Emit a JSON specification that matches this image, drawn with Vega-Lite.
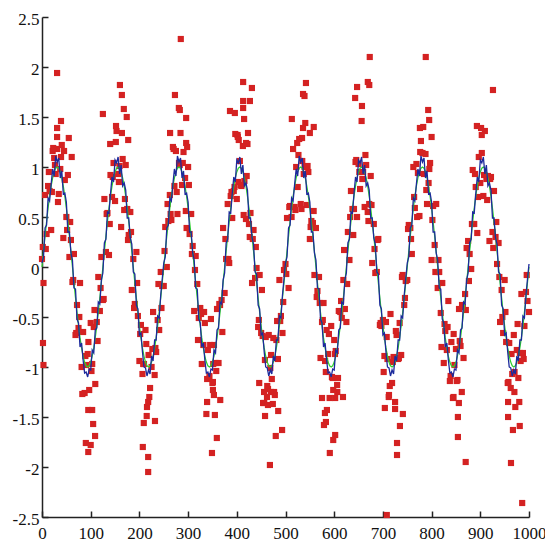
{
"$schema":"https://vega.github.io/schema/vega-lite/v6.json",
"width":487,"height":500,
"autosize":"none",
"padding":{"left":42,"top":17,"right":16,"bottom":25},
"background":"white",
"config":{"view":{"stroke":null},
 "axis":{"domainColor":"#222","domainWidth":1.5,"tickColor":"#222","tickWidth":1.5,"tickSize":-6,"labelFont":"Liberation Sans Narrow","labelFontSize":17,"labelColor":"#111","grid":false,"labelFlush":false,"labelOverlap":false},
 "axisX":{"labelPadding":14},
 "axisY":{"labelPadding":9,"labelOffset":2}},
"datasets":{
"lines":[
{"x":0,"g":0,"b":0.04},{"x":3.1,"g":0.156,"b":0.1},{"x":6.3,"g":0.309,"b":0.39},{"x":9.4,"g":0.454,"b":0.42},{"x":12.5,"g":0.588,"b":0.69},{"x":15.6,"g":0.707,"b":0.66},{"x":18.8,"g":0.809,"b":0.83},{"x":21.9,"g":0.891,"b":0.98},{"x":25,"g":0.951,"b":0.91},{"x":28.1,"g":0.988,"b":1.11},{"x":31.3,"g":1,"b":1.05},{"x":34.4,"g":0.988,"b":1.09},{"x":37.5,"g":0.951,"b":0.89},{"x":40.6,"g":0.891,"b":0.96},{"x":43.8,"g":0.809,"b":0.73},{"x":46.9,"g":0.707,"b":0.74},{"x":50,"g":0.588,"b":0.65},{"x":53.1,"g":0.454,"b":0.35},{"x":56.3,"g":0.309,"b":0.35},{"x":59.4,"g":0.156,"b":0.14},{"x":62.5,"g":0,"b":0.07},{"x":65.6,"g":-0.156,"b":-0.21},{"x":68.8,"g":-0.309,"b":-0.22},{"x":71.9,"g":-0.454,"b":-0.52},{"x":75,"g":-0.588,"b":-0.56},{"x":78.1,"g":-0.707,"b":-0.8},{"x":81.3,"g":-0.809,"b":-0.76},{"x":84.4,"g":-0.891,"b":-0.93},{"x":87.5,"g":-0.951,"b":-1.06},{"x":90.6,"g":-0.988,"b":-1.05},{"x":93.8,"g":-1,"b":-1.1},{"x":96.9,"g":-0.988,"b":-1.02},{"x":100,"g":-0.951,"b":-1.03},{"x":103.1,"g":-0.891,"b":-0.83},{"x":106.3,"g":-0.809,"b":-0.86},{"x":109.4,"g":-0.707,"b":-0.63},{"x":112.5,"g":-0.588,"b":-0.61},{"x":115.6,"g":-0.454,"b":-0.35},{"x":118.8,"g":-0.309,"b":-0.37},{"x":121.9,"g":-0.156,"b":-0.13},
{"x":125,"g":0,"b":-0.06},{"x":128.1,"g":0.156,"b":0.24},{"x":131.3,"g":0.309,"b":0.28},{"x":134.4,"g":0.454,"b":0.55},{"x":137.5,"g":0.588,"b":0.54},{"x":140.6,"g":0.707,"b":0.73},{"x":143.8,"g":0.809,"b":0.9},{"x":146.9,"g":0.891,"b":0.85},{"x":150,"g":0.951,"b":1.07},{"x":153.1,"g":0.988,"b":1.04},{"x":156.3,"g":1,"b":1.1},{"x":159.4,"g":0.988,"b":0.93},{"x":162.5,"g":0.951,"b":1.02},{"x":165.6,"g":0.891,"b":0.81},{"x":168.8,"g":0.809,"b":0.84},{"x":171.9,"g":0.707,"b":0.77},{"x":175,"g":0.588,"b":0.49},{"x":178.1,"g":0.454,"b":0.49},{"x":181.3,"g":0.309,"b":0.29},{"x":184.4,"g":0.156,"b":0.23},{"x":187.5,"g":0,"b":-0.05},{"x":190.6,"g":-0.156,"b":-0.07},{"x":193.8,"g":-0.309,"b":-0.38},{"x":196.9,"g":-0.454,"b":-0.42},{"x":200,"g":-0.588,"b":-0.68},{"x":203.1,"g":-0.707,"b":-0.66},{"x":206.3,"g":-0.809,"b":-0.85},{"x":209.4,"g":-0.891,"b":-1.0},{"x":212.5,"g":-0.951,"b":-1.01},{"x":215.6,"g":-0.988,"b":-1.09},{"x":218.8,"g":-1,"b":-1.03},{"x":221.9,"g":-0.988,"b":-1.07},{"x":225,"g":-0.951,"b":-0.89},{"x":228.1,"g":-0.891,"b":-0.94},{"x":231.3,"g":-0.809,"b":-0.73},{"x":234.4,"g":-0.707,"b":-0.73},{"x":237.5,"g":-0.588,"b":-0.49},{"x":240.6,"g":-0.454,"b":-0.51},{"x":243.8,"g":-0.309,"b":-0.28},{"x":246.9,"g":-0.156,"b":-0.12},
{"x":250,"g":0,"b":0.04},{"x":253.1,"g":0.156,"b":0.1},{"x":256.3,"g":0.309,"b":0.39},{"x":259.4,"g":0.454,"b":0.42},{"x":262.5,"g":0.588,"b":0.69},{"x":265.6,"g":0.707,"b":0.66},{"x":268.8,"g":0.809,"b":0.83},{"x":271.9,"g":0.891,"b":0.98},{"x":275,"g":0.951,"b":0.91},{"x":278.1,"g":0.988,"b":1.11},{"x":281.3,"g":1,"b":1.05},{"x":284.4,"g":0.988,"b":1.09},{"x":287.5,"g":0.951,"b":0.89},{"x":290.6,"g":0.891,"b":0.96},{"x":293.8,"g":0.809,"b":0.73},{"x":296.9,"g":0.707,"b":0.74},{"x":300,"g":0.588,"b":0.65},{"x":303.1,"g":0.454,"b":0.35},{"x":306.3,"g":0.309,"b":0.35},{"x":309.4,"g":0.156,"b":0.14},{"x":312.5,"g":0,"b":0.07},{"x":315.6,"g":-0.156,"b":-0.21},{"x":318.8,"g":-0.309,"b":-0.22},{"x":321.9,"g":-0.454,"b":-0.52},{"x":325,"g":-0.588,"b":-0.56},{"x":328.1,"g":-0.707,"b":-0.8},{"x":331.3,"g":-0.809,"b":-0.76},{"x":334.4,"g":-0.891,"b":-0.93},{"x":337.5,"g":-0.951,"b":-1.06},{"x":340.6,"g":-0.988,"b":-1.05},{"x":343.8,"g":-1,"b":-1.1},{"x":346.9,"g":-0.988,"b":-1.02},{"x":350,"g":-0.951,"b":-1.03},{"x":353.1,"g":-0.891,"b":-0.83},{"x":356.3,"g":-0.809,"b":-0.86},{"x":359.4,"g":-0.707,"b":-0.63},{"x":362.5,"g":-0.588,"b":-0.61},{"x":365.6,"g":-0.454,"b":-0.35},{"x":368.8,"g":-0.309,"b":-0.37},{"x":371.9,"g":-0.156,"b":-0.13},
{"x":375,"g":0,"b":-0.06},{"x":378.1,"g":0.156,"b":0.24},{"x":381.3,"g":0.309,"b":0.28},{"x":384.4,"g":0.454,"b":0.55},{"x":387.5,"g":0.588,"b":0.54},{"x":390.6,"g":0.707,"b":0.73},{"x":393.8,"g":0.809,"b":0.9},{"x":396.9,"g":0.891,"b":0.85},{"x":400,"g":0.951,"b":1.07},{"x":403.1,"g":0.988,"b":1.04},{"x":406.3,"g":1,"b":1.1},{"x":409.4,"g":0.988,"b":0.93},{"x":412.5,"g":0.951,"b":1.02},{"x":415.6,"g":0.891,"b":0.81},{"x":418.8,"g":0.809,"b":0.84},{"x":421.9,"g":0.707,"b":0.77},{"x":425,"g":0.588,"b":0.49},{"x":428.1,"g":0.454,"b":0.49},{"x":431.3,"g":0.309,"b":0.29},{"x":434.4,"g":0.156,"b":0.23},{"x":437.5,"g":0,"b":-0.05},{"x":440.6,"g":-0.156,"b":-0.07},{"x":443.8,"g":-0.309,"b":-0.38},{"x":446.9,"g":-0.454,"b":-0.42},{"x":450,"g":-0.588,"b":-0.68},{"x":453.1,"g":-0.707,"b":-0.66},{"x":456.3,"g":-0.809,"b":-0.85},{"x":459.4,"g":-0.891,"b":-1.0},{"x":462.5,"g":-0.951,"b":-1.01},{"x":465.6,"g":-0.988,"b":-1.09},{"x":468.8,"g":-1,"b":-1.03},{"x":471.9,"g":-0.988,"b":-1.07},{"x":475,"g":-0.951,"b":-0.89},{"x":478.1,"g":-0.891,"b":-0.94},{"x":481.3,"g":-0.809,"b":-0.73},{"x":484.4,"g":-0.707,"b":-0.73},{"x":487.5,"g":-0.588,"b":-0.49},{"x":490.6,"g":-0.454,"b":-0.51},{"x":493.8,"g":-0.309,"b":-0.28},{"x":496.9,"g":-0.156,"b":-0.12},
{"x":500,"g":0,"b":0.04},{"x":503.1,"g":0.156,"b":0.1},{"x":506.3,"g":0.309,"b":0.39},{"x":509.4,"g":0.454,"b":0.42},{"x":512.5,"g":0.588,"b":0.69},{"x":515.6,"g":0.707,"b":0.66},{"x":518.8,"g":0.809,"b":0.83},{"x":521.9,"g":0.891,"b":0.98},{"x":525,"g":0.951,"b":0.91},{"x":528.1,"g":0.988,"b":1.11},{"x":531.3,"g":1,"b":1.05},{"x":534.4,"g":0.988,"b":1.09},{"x":537.5,"g":0.951,"b":0.89},{"x":540.6,"g":0.891,"b":0.96},{"x":543.8,"g":0.809,"b":0.73},{"x":546.9,"g":0.707,"b":0.74},{"x":550,"g":0.588,"b":0.65},{"x":553.1,"g":0.454,"b":0.35},{"x":556.3,"g":0.309,"b":0.35},{"x":559.4,"g":0.156,"b":0.14},{"x":562.5,"g":0,"b":0.07},{"x":565.6,"g":-0.156,"b":-0.21},{"x":568.8,"g":-0.309,"b":-0.22},{"x":571.9,"g":-0.454,"b":-0.52},{"x":575,"g":-0.588,"b":-0.56},{"x":578.1,"g":-0.707,"b":-0.8},{"x":581.3,"g":-0.809,"b":-0.76},{"x":584.4,"g":-0.891,"b":-0.93},{"x":587.5,"g":-0.951,"b":-1.06},{"x":590.6,"g":-0.988,"b":-1.05},{"x":593.8,"g":-1,"b":-1.1},{"x":596.9,"g":-0.988,"b":-1.02},{"x":600,"g":-0.951,"b":-1.03},{"x":603.1,"g":-0.891,"b":-0.83},{"x":606.3,"g":-0.809,"b":-0.86},{"x":609.4,"g":-0.707,"b":-0.63},{"x":612.5,"g":-0.588,"b":-0.61},{"x":615.6,"g":-0.454,"b":-0.35},{"x":618.8,"g":-0.309,"b":-0.37},{"x":621.9,"g":-0.156,"b":-0.13},
{"x":625,"g":0,"b":-0.06},{"x":628.1,"g":0.156,"b":0.24},{"x":631.3,"g":0.309,"b":0.28},{"x":634.4,"g":0.454,"b":0.55},{"x":637.5,"g":0.588,"b":0.54},{"x":640.6,"g":0.707,"b":0.73},{"x":643.8,"g":0.809,"b":0.9},{"x":646.9,"g":0.891,"b":0.85},{"x":650,"g":0.951,"b":1.07},{"x":653.1,"g":0.988,"b":1.04},{"x":656.3,"g":1,"b":1.1},{"x":659.4,"g":0.988,"b":0.93},{"x":662.5,"g":0.951,"b":1.02},{"x":665.6,"g":0.891,"b":0.81},{"x":668.8,"g":0.809,"b":0.84},{"x":671.9,"g":0.707,"b":0.77},{"x":675,"g":0.588,"b":0.49},{"x":678.1,"g":0.454,"b":0.49},{"x":681.3,"g":0.309,"b":0.29},{"x":684.4,"g":0.156,"b":0.23},{"x":687.5,"g":0,"b":-0.05},{"x":690.6,"g":-0.156,"b":-0.07},{"x":693.8,"g":-0.309,"b":-0.38},{"x":696.9,"g":-0.454,"b":-0.42},{"x":700,"g":-0.588,"b":-0.68},{"x":703.1,"g":-0.707,"b":-0.66},{"x":706.3,"g":-0.809,"b":-0.85},{"x":709.4,"g":-0.891,"b":-1.0},{"x":712.5,"g":-0.951,"b":-1.01},{"x":715.6,"g":-0.988,"b":-1.09},{"x":718.8,"g":-1,"b":-1.03},{"x":721.9,"g":-0.988,"b":-1.07},{"x":725,"g":-0.951,"b":-0.89},{"x":728.1,"g":-0.891,"b":-0.94},{"x":731.3,"g":-0.809,"b":-0.73},{"x":734.4,"g":-0.707,"b":-0.73},{"x":737.5,"g":-0.588,"b":-0.49},{"x":740.6,"g":-0.454,"b":-0.51},{"x":743.8,"g":-0.309,"b":-0.28},{"x":746.9,"g":-0.156,"b":-0.12},
{"x":750,"g":0,"b":0.04},{"x":753.1,"g":0.156,"b":0.1},{"x":756.3,"g":0.309,"b":0.39},{"x":759.4,"g":0.454,"b":0.42},{"x":762.5,"g":0.588,"b":0.69},{"x":765.6,"g":0.707,"b":0.66},{"x":768.8,"g":0.809,"b":0.83},{"x":771.9,"g":0.891,"b":0.98},{"x":775,"g":0.951,"b":0.91},{"x":778.1,"g":0.988,"b":1.11},{"x":781.3,"g":1,"b":1.05},{"x":784.4,"g":0.988,"b":1.09},{"x":787.5,"g":0.951,"b":0.89},{"x":790.6,"g":0.891,"b":0.96},{"x":793.8,"g":0.809,"b":0.73},{"x":796.9,"g":0.707,"b":0.74},{"x":800,"g":0.588,"b":0.65},{"x":803.1,"g":0.454,"b":0.35},{"x":806.3,"g":0.309,"b":0.35},{"x":809.4,"g":0.156,"b":0.14},{"x":812.5,"g":0,"b":0.07},{"x":815.6,"g":-0.156,"b":-0.21},{"x":818.8,"g":-0.309,"b":-0.22},{"x":821.9,"g":-0.454,"b":-0.52},{"x":825,"g":-0.588,"b":-0.56},{"x":828.1,"g":-0.707,"b":-0.8},{"x":831.3,"g":-0.809,"b":-0.76},{"x":834.4,"g":-0.891,"b":-0.93},{"x":837.5,"g":-0.951,"b":-1.06},{"x":840.6,"g":-0.988,"b":-1.05},{"x":843.8,"g":-1,"b":-1.1},{"x":846.9,"g":-0.988,"b":-1.02},{"x":850,"g":-0.951,"b":-1.03},{"x":853.1,"g":-0.891,"b":-0.83},{"x":856.3,"g":-0.809,"b":-0.86},{"x":859.4,"g":-0.707,"b":-0.63},{"x":862.5,"g":-0.588,"b":-0.61},{"x":865.6,"g":-0.454,"b":-0.35},{"x":868.8,"g":-0.309,"b":-0.37},{"x":871.9,"g":-0.156,"b":-0.13},
{"x":875,"g":0,"b":-0.06},{"x":878.1,"g":0.156,"b":0.24},{"x":881.3,"g":0.309,"b":0.28},{"x":884.4,"g":0.454,"b":0.55},{"x":887.5,"g":0.588,"b":0.54},{"x":890.6,"g":0.707,"b":0.73},{"x":893.8,"g":0.809,"b":0.9},{"x":896.9,"g":0.891,"b":0.85},{"x":900,"g":0.951,"b":1.07},{"x":903.1,"g":0.988,"b":1.04},{"x":906.3,"g":1,"b":1.1},{"x":909.4,"g":0.988,"b":0.93},{"x":912.5,"g":0.951,"b":1.02},{"x":915.6,"g":0.891,"b":0.81},{"x":918.8,"g":0.809,"b":0.84},{"x":921.9,"g":0.707,"b":0.77},{"x":925,"g":0.588,"b":0.49},{"x":928.1,"g":0.454,"b":0.49},{"x":931.3,"g":0.309,"b":0.29},{"x":934.4,"g":0.156,"b":0.23},{"x":937.5,"g":0,"b":-0.05},{"x":940.6,"g":-0.156,"b":-0.07},{"x":943.8,"g":-0.309,"b":-0.38},{"x":946.9,"g":-0.454,"b":-0.42},{"x":950,"g":-0.588,"b":-0.68},{"x":953.1,"g":-0.707,"b":-0.66},{"x":956.3,"g":-0.809,"b":-0.85},{"x":959.4,"g":-0.891,"b":-1.0},{"x":962.5,"g":-0.951,"b":-1.01},{"x":965.6,"g":-0.988,"b":-1.09},{"x":968.8,"g":-1,"b":-1.03},{"x":971.9,"g":-0.988,"b":-1.07},{"x":975,"g":-0.951,"b":-0.89},{"x":978.1,"g":-0.891,"b":-0.94},{"x":981.3,"g":-0.809,"b":-0.73},{"x":984.4,"g":-0.707,"b":-0.73},{"x":987.5,"g":-0.588,"b":-0.49},{"x":990.6,"g":-0.454,"b":-0.51},{"x":993.8,"g":-0.309,"b":-0.28},{"x":996.9,"g":-0.156,"b":-0.12},{"x":1000,"g":0,"b":0.03}
],
"pts":[
{"x":0,"y":0.08},{"x":3.1,"y":-0.16},{"x":6.3,"y":0.72},{"x":9.4,"y":0.33},{"x":12.5,"y":0.81},{"x":15.6,"y":0.76},{"x":18.8,"y":0.37},{"x":21.9,"y":1.16},{"x":25,"y":1.09},{"x":28.1,"y":0.93},{"x":31.3,"y":1.18},{"x":34.4,"y":0.73},{"x":37.5,"y":0.98},{"x":40.6,"y":1.22},{"x":43.8,"y":0.29},{"x":46.9,"y":0.87},{"x":50,"y":0.5},{"x":53.1,"y":0.92},{"x":56.3,"y":0.1},{"x":59.4,"y":0.27},{"x":62.5,"y":-0.15},{"x":65.6,"y":0.13},{"x":68.8,"y":-0.68},{"x":71.9,"y":-0.38},{"x":75,"y":-0.61},{"x":78.1,"y":-0.16},{"x":81.3,"y":-1.0},{"x":84.4,"y":-0.65},{"x":87.5,"y":-1.26},{"x":90.6,"y":-0.98},{"x":93.8,"y":-0.87},{"x":96.9,"y":-1.23},{"x":100,"y":-0.56},{"x":103.1,"y":-0.97},{"x":106.3,"y":-0.6},{"x":109.4,"y":-1.17},{"x":112.5,"y":-0.55},{"x":115.6,"y":-0.1},{"x":118.8,"y":-0.44},{"x":121.9,"y":0.1},
{"x":125,"y":-0.33},{"x":128.1,"y":0.68},{"x":131.3,"y":0.15},{"x":134.4,"y":0.54},{"x":137.5,"y":0.12},{"x":140.6,"y":0.92},{"x":143.8,"y":0.7},{"x":146.9,"y":1.04},{"x":150,"y":0.66},{"x":153.1,"y":1.36},{"x":156.3,"y":0.93},{"x":159.4,"y":1.01},{"x":162.5,"y":0.4},{"x":165.6,"y":1.08},{"x":168.8,"y":0.57},{"x":171.9,"y":1.02},{"x":175,"y":0.58},{"x":178.1,"y":0.32},{"x":181.3,"y":0.55},{"x":184.4,"y":-0.23},{"x":187.5,"y":0.08},{"x":190.6,"y":-0.37},{"x":193.8,"y":0.15},{"x":196.9,"y":-0.49},{"x":200,"y":-0.94},{"x":203.1,"y":-0.58},{"x":206.3,"y":-1.07},{"x":209.4,"y":-0.97},{"x":212.5,"y":-0.63},{"x":215.6,"y":-1.4},{"x":218.8,"y":-0.88},{"x":221.9,"y":-1.21},{"x":225,"y":-1.0},{"x":228.1,"y":-0.45},{"x":231.3,"y":-1.08},{"x":234.4,"y":-0.85},{"x":237.5,"y":-0.53},{"x":240.6,"y":-0.63},{"x":243.8,"y":-0.05},{"x":246.9,"y":-0.19},
{"x":250,"y":-0.19},{"x":253.1,"y":0.4},{"x":256.3,"y":0.0},{"x":259.4,"y":0.46},{"x":262.5,"y":0.72},{"x":265.6,"y":0.47},{"x":268.8,"y":1.2},{"x":271.9,"y":0.81},{"x":275,"y":1.16},{"x":278.1,"y":0.53},{"x":281.3,"y":1.04},{"x":284.4,"y":1.34},{"x":287.5,"y":0.82},{"x":290.6,"y":1.15},{"x":293.8,"y":0.89},{"x":296.9,"y":0.39},{"x":300,"y":1.0},{"x":303.1,"y":0.33},{"x":306.3,"y":0.53},{"x":309.4,"y":0.21},{"x":312.5,"y":-0.44},{"x":315.6,"y":0.11},{"x":318.8,"y":-0.17},{"x":321.9,"y":-0.51},{"x":325,"y":-0.41},{"x":328.1,"y":-0.97},{"x":331.3,"y":-0.78},{"x":334.4,"y":-0.56},{"x":337.5,"y":-1.47},{"x":340.6,"y":-0.83},{"x":343.8,"y":-1.09},{"x":346.9,"y":-0.52},{"x":350,"y":-1.16},{"x":353.1,"y":-0.78},{"x":356.3,"y":-0.96},{"x":359.4,"y":-0.42},{"x":362.5,"y":-0.96},{"x":365.6,"y":-0.38},{"x":368.8,"y":-0.33},{"x":371.9,"y":0.39},
{"x":375,"y":-0.26},{"x":378.1,"y":0.08},{"x":381.3,"y":0.63},{"x":384.4,"y":0.04},{"x":387.5,"y":0.71},{"x":390.6,"y":0.49},{"x":393.8,"y":0.76},{"x":396.9,"y":1.33},{"x":400,"y":0.68},{"x":403.1,"y":0.85},{"x":406.3,"y":1.06},{"x":409.4,"y":0.81},{"x":412.5,"y":1.21},{"x":415.6,"y":0.86},{"x":418.8,"y":0.48},{"x":421.9,"y":1.23},{"x":425,"y":0.43},{"x":428.1,"y":0.54},{"x":431.3,"y":-0.16},{"x":434.4,"y":0.37},{"x":437.5,"y":-0.11},{"x":440.6,"y":-0.01},{"x":443.8,"y":-0.6},{"x":446.9,"y":-0.08},{"x":450,"y":-0.66},{"x":453.1,"y":-0.69},{"x":456.3,"y":-1.36},{"x":459.4,"y":-0.7},{"x":462.5,"y":-1.19},{"x":465.6,"y":-0.68},{"x":468.8,"y":-1.01},{"x":471.9,"y":-1.12},{"x":475,"y":-0.71},{"x":478.1,"y":-1.28},{"x":481.3,"y":-0.73},{"x":484.4,"y":-0.92},{"x":487.5,"y":-0.13},{"x":490.6,"y":-0.49},{"x":493.8,"y":-0.66},{"x":496.9,"y":-0.03},
{"x":500,"y":0.03},{"x":503.1,"y":0.49},{"x":506.3,"y":-0.21},{"x":509.4,"y":0.61},{"x":512.5,"y":0.5},{"x":515.6,"y":1.18},{"x":518.8,"y":0.6},{"x":521.9,"y":1.0},{"x":525,"y":0.8},{"x":528.1,"y":1.28},{"x":531.3,"y":0.63},{"x":534.4,"y":1.06},{"x":537.5,"y":0.93},{"x":540.6,"y":1.44},{"x":543.8,"y":0.62},{"x":546.9,"y":0.95},{"x":550,"y":0.28},{"x":553.1,"y":0.46},{"x":556.3,"y":0.44},{"x":559.4,"y":-0.08},{"x":562.5,"y":0.39},{"x":565.6,"y":-0.24},{"x":568.8,"y":-0.1},{"x":571.9,"y":-0.91},{"x":575,"y":-0.55},{"x":578.1,"y":-0.36},{"x":581.3,"y":-0.94},{"x":584.4,"y":-0.63},{"x":587.5,"y":-0.87},{"x":590.6,"y":-1.31},{"x":593.8,"y":-0.59},{"x":596.9,"y":-1.11},{"x":600,"y":-0.73},{"x":603.1,"y":-0.84},{"x":606.3,"y":-1.25},{"x":609.4,"y":-0.44},{"x":612.5,"y":-0.45},{"x":615.6,"y":-0.51},{"x":618.8,"y":-0.13},{"x":621.9,"y":-0.42},
{"x":625,"y":-0.55},{"x":628.1,"y":0.35},{"x":631.3,"y":0.07},{"x":634.4,"y":0.76},{"x":637.5,"y":0.58},{"x":640.6,"y":0.58},{"x":643.8,"y":1.05},{"x":646.9,"y":0.5},{"x":650,"y":1.03},{"x":653.1,"y":0.78},{"x":656.3,"y":1.46},{"x":659.4,"y":0.95},{"x":662.5,"y":0.6},{"x":665.6,"y":1.02},{"x":668.8,"y":0.55},{"x":671.9,"y":0.63},{"x":675,"y":0.91},{"x":678.1,"y":0.04},{"x":681.3,"y":0.43},{"x":684.4,"y":-0.06},{"x":687.5,"y":-0.05},{"x":690.6,"y":0.28},{"x":693.8,"y":-0.58},{"x":696.9,"y":-0.59},{"x":700,"y":-0.53},{"x":703.1,"y":-0.89},{"x":706.3,"y":-0.55},{"x":709.4,"y":-0.92},{"x":712.5,"y":-1.28},{"x":715.6,"y":-0.47},{"x":718.8,"y":-1.16},{"x":721.9,"y":-0.9},{"x":725,"y":-1.42},{"x":728.1,"y":-0.68},{"x":731.3,"y":-0.92},{"x":734.4,"y":-0.56},{"x":737.5,"y":-0.88},{"x":740.6,"y":-0.08},{"x":743.8,"y":-0.38},{"x":746.9,"y":-0.14},
{"x":750,"y":-0.13},{"x":753.1,"y":0.42},{"x":756.3,"y":0.39},{"x":759.4,"y":0.13},{"x":762.5,"y":1.0},{"x":765.6,"y":0.59},{"x":768.8,"y":1.03},{"x":771.9,"y":0.94},{"x":775,"y":0.51},{"x":778.1,"y":1.26},{"x":781.3,"y":1.14},{"x":784.4,"y":0.93},{"x":787.5,"y":1.13},{"x":790.6,"y":0.63},{"x":793.8,"y":0.84},{"x":796.9,"y":1.04},{"x":800,"y":0.07},{"x":803.1,"y":0.61},{"x":806.3,"y":0.22},{"x":809.4,"y":0.63},{"x":812.5,"y":-0.21},{"x":815.6,"y":-0.05},{"x":818.8,"y":-0.46},{"x":821.9,"y":-0.16},{"x":825,"y":-0.96},{"x":828.1,"y":-0.64},{"x":831.3,"y":-0.83},{"x":834.4,"y":-0.34},{"x":837.5,"y":-1.14},{"x":840.6,"y":-0.75},{"x":843.8,"y":-1.31},{"x":846.9,"y":-0.98},{"x":850,"y":-0.82},{"x":853.1,"y":-1.13},{"x":856.3,"y":-0.42},{"x":859.4,"y":-0.79},{"x":862.5,"y":-0.38},{"x":865.6,"y":-0.91},{"x":868.8,"y":-0.27},{"x":871.9,"y":0.19},
{"x":875,"y":0.26},{"x":878.1,"y":0.13},{"x":881.3,"y":-0.02},{"x":884.4,"y":0.97},{"x":887.5,"y":0.43},{"x":890.6,"y":0.8},{"x":893.8,"y":0.34},{"x":896.9,"y":1.1},{"x":900,"y":0.84},{"x":903.1,"y":1.14},{"x":906.3,"y":0.71},{"x":909.4,"y":1.36},{"x":912.5,"y":0.88},{"x":915.6,"y":0.91},{"x":918.8,"y":0.26},{"x":921.9,"y":0.9},{"x":925,"y":0.35},{"x":928.1,"y":0.76},{"x":931.3,"y":0.3},{"x":934.4,"y":0.03},{"x":937.5,"y":0.24},{"x":940.6,"y":-0.55},{"x":943.8,"y":-0.23},{"x":946.9,"y":-0.66},{"x":950,"y":-0.13},{"x":953.1,"y":-0.75},{"x":956.3,"y":-1.16},{"x":959.4,"y":-0.76},{"x":962.5,"y":-1.21},{"x":965.6,"y":-1.07},{"x":968.8,"y":-0.68},{"x":971.9,"y":-1.4},{"x":975,"y":-0.83},{"x":978.1,"y":-1.11},{"x":981.3,"y":-0.86},{"x":984.4,"y":-0.27},{"x":987.5,"y":-0.86},{"x":990.6,"y":-0.59},{"x":993.8,"y":-0.25},{"x":996.9,"y":-0.34},{"x":1000,"y":-0.45},
{"x":1.6,"y":0.2},{"x":7.8,"y":0.18},{"x":14.1,"y":0.95},{"x":20.3,"y":0.75},{"x":26.6,"y":1.02},{"x":32.8,"y":0.65},{"x":39.1,"y":1.1},{"x":45.3,"y":1.16},{"x":51.6,"y":0.37},{"x":57.8,"y":0.45},{"x":64.1,"y":-0.13},{"x":70.3,"y":-0.66},{"x":76.6,"y":-0.5},{"x":82.8,"y":-1.27},{"x":89.1,"y":-0.89},{"x":95.3,"y":-0.75},{"x":101.6,"y":-1.04},{"x":107.8,"y":-0.43},{"x":114.1,"y":-0.74},{"x":120.3,"y":-0.21},
{"x":126.6,"y":-0.32},{"x":132.8,"y":0.53},{"x":139.1,"y":0.43},{"x":145.3,"y":0.9},{"x":151.6,"y":1.25},{"x":157.8,"y":0.85},{"x":164.1,"y":1.34},{"x":170.3,"y":0.68},{"x":176.6,"y":0.27},{"x":182.8,"y":0.35},{"x":189.1,"y":-0.41},{"x":195.3,"y":-0.16},{"x":201.6,"y":-0.67},{"x":207.8,"y":-0.97},{"x":214.1,"y":-0.77},{"x":220.3,"y":-1.3},{"x":226.6,"y":-0.82},{"x":232.8,"y":-0.81},{"x":239.1,"y":-0.17},{"x":245.3,"y":-0.41},
{"x":251.6,"y":0.16},{"x":257.8,"y":0.63},{"x":264.1,"y":0.53},{"x":270.3,"y":1.18},{"x":276.6,"y":0.75},{"x":282.8,"y":1.02},{"x":289.1,"y":1.04},{"x":295.3,"y":0.56},{"x":301.6,"y":0.82},{"x":307.8,"y":0.13},{"x":314.1,"y":-0.03},{"x":320.3,"y":-0.73},{"x":326.6,"y":-0.47},{"x":332.8,"y":-0.45},{"x":339.1,"y":-1.12},{"x":345.3,"y":-0.78},{"x":351.6,"y":-0.97},{"x":357.8,"y":-1.04},{"x":364.1,"y":-0.37},{"x":370.3,"y":-0.65},
{"x":376.6,"y":0.28},{"x":382.8,"y":0.08},{"x":389.1,"y":0.75},{"x":395.3,"y":0.8},{"x":401.6,"y":1.32},{"x":407.8,"y":0.82},{"x":414.1,"y":0.52},{"x":420.3,"y":0.91},{"x":426.6,"y":0.3},{"x":432.8,"y":0.28},{"x":439.1,"y":0.2},{"x":445.3,"y":-0.53},{"x":451.6,"y":-0.23},{"x":457.8,"y":-0.93},{"x":464.1,"y":-1.22},{"x":470.3,"y":-0.88},{"x":476.6,"y":-1.25},{"x":482.8,"y":-0.54},{"x":489.1,"y":-0.54},{"x":495.3,"y":-0.35},
{"x":501.6,"y":-0.07},{"x":507.8,"y":0.6},{"x":514.1,"y":0.6},{"x":520.3,"y":0.57},{"x":526.6,"y":1.12},{"x":532.8,"y":0.58},{"x":539.1,"y":1.0},{"x":545.3,"y":1.01},{"x":551.6,"y":0.4},{"x":557.8,"y":0.56},{"x":564.1,"y":-0.3},{"x":570.3,"y":-0.36},{"x":576.6,"y":-0.53},{"x":582.8,"y":-1.05},{"x":589.1,"y":-0.67},{"x":595.3,"y":-1.1},{"x":601.6,"y":-0.87},{"x":607.8,"y":-1.11},{"x":614.1,"y":-0.34},{"x":620.3,"y":0.17},
{"x":626.6,"y":-0.17},{"x":632.8,"y":0.5},{"x":639.1,"y":0.32},{"x":645.3,"y":1.07},{"x":651.6,"y":0.95},{"x":657.8,"y":0.88},{"x":664.1,"y":1.12},{"x":670.3,"y":0.46},{"x":676.6,"y":0.62},{"x":682.8,"y":0.18},{"x":689.1,"y":0.27},{"x":695.3,"y":-0.56},{"x":701.6,"y":-1.05},{"x":707.8,"y":-0.7},{"x":714.1,"y":-1.19},{"x":720.3,"y":-0.95},{"x":726.6,"y":-0.64},{"x":732.8,"y":-0.91},{"x":739.1,"y":-0.1},{"x":745.3,"y":-0.31},
{"x":751.6,"y":0.38},{"x":757.8,"y":0.28},{"x":764.1,"y":0.7},{"x":770.3,"y":0.5},{"x":776.6,"y":1.15},{"x":782.8,"y":1.4},{"x":789.1,"y":0.77},{"x":795.3,"y":0.98},{"x":801.6,"y":0.47},{"x":807.8,"y":-0.05},{"x":814.1,"y":0.07},{"x":820.3,"y":-0.8},{"x":826.6,"y":-0.57},{"x":832.8,"y":-0.6},{"x":839.1,"y":-1.09},{"x":845.3,"y":-0.67},{"x":851.6,"y":-1.14},{"x":857.8,"y":-0.74},{"x":864.1,"y":-0.4},{"x":870.3,"y":-0.43},
{"x":876.6,"y":-0.14},{"x":882.8,"y":0.43},{"x":889.1,"y":0.93},{"x":895.3,"y":0.7},{"x":901.6,"y":1.39},{"x":907.8,"y":0.92},{"x":914.1,"y":0.67},{"x":920.3,"y":0.88},{"x":926.6,"y":0.19},{"x":932.8,"y":0.45},{"x":939.1,"y":-0.1},{"x":945.3,"y":-0.5},{"x":951.6,"y":-0.45},{"x":957.8,"y":-1.15},{"x":964.1,"y":-0.87},{"x":970.3,"y":-1.05},{"x":976.6,"y":-0.57},{"x":982.8,"y":-0.94},{"x":989.1,"y":-0.92},{"x":995.3,"y":-0.08},
{"x":31,"y":1.94},{"x":160,"y":1.82},{"x":164,"y":1.72},{"x":168,"y":1.58},{"x":174,"y":1.5},{"x":125,"y":1.53},{"x":152,"y":1.41},{"x":140,"y":1.23},{"x":177,"y":1.27},{"x":39,"y":1.46},{"x":31,"y":1.39},{"x":31,"y":1.3},{"x":55,"y":1.29},{"x":23,"y":1.19},{"x":61,"y":1.1},{"x":2,"y":-0.76},{"x":3,"y":-0.98},
{"x":285,"y":2.28},{"x":273,"y":1.72},{"x":281,"y":1.59},{"x":283,"y":1.57},{"x":296,"y":1.49},{"x":263,"y":1.34},{"x":296,"y":1.24},{"x":298,"y":1.2},
{"x":673,"y":2.1},{"x":788,"y":2.1},{"x":926,"y":1.77},{"x":669,"y":1.85},{"x":672,"y":1.82},{"x":647,"y":1.8},{"x":643,"y":1.69},{"x":657,"y":1.61},{"x":793,"y":1.57},{"x":795,"y":1.47},{"x":776,"y":1.39},{"x":800,"y":1.3},{"x":893,"y":1.41},{"x":903,"y":1.32},
{"x":413,"y":1.85},{"x":431,"y":1.79},{"x":413,"y":1.66},{"x":427,"y":1.66},{"x":386,"y":1.56},{"x":396,"y":1.54},{"x":413,"y":1.59},{"x":415,"y":1.48},{"x":423,"y":1.34},{"x":402,"y":1.3},{"x":404,"y":1.27},{"x":419,"y":1.24},
{"x":542,"y":1.84},{"x":536,"y":1.73},{"x":539,"y":1.71},{"x":513,"y":1.48},{"x":536,"y":1.39},{"x":558,"y":1.4},{"x":550,"y":1.34},{"x":534,"y":1.29},{"x":524,"y":1.24},
{"x":95,"y":-1.43},{"x":103,"y":-1.43},{"x":105,"y":-1.57},{"x":109,"y":-1.69},{"x":90,"y":-1.76},{"x":100,"y":-1.78},{"x":95,"y":-1.85},
{"x":218,"y":-1.35},{"x":215,"y":-1.49},{"x":209,"y":-1.56},{"x":232,"y":-1.54},{"x":207,"y":-1.8},{"x":218,"y":-1.9},{"x":218,"y":-2.05},
{"x":351,"y":-1.15},{"x":351,"y":-1.23},{"x":353,"y":-1.28},{"x":339,"y":-1.35},{"x":366,"y":-1.33},{"x":355,"y":-1.48},{"x":359,"y":-1.71},{"x":349,"y":-1.86},
{"x":446,"y":-1.16},{"x":456,"y":-1.25},{"x":470,"y":-1.25},{"x":462,"y":-1.3},{"x":454,"y":-1.36},{"x":464,"y":-1.38},{"x":474,"y":-1.37},{"x":485,"y":-1.44},{"x":458,"y":-1.49},{"x":493,"y":-1.63},{"x":480,"y":-1.69},{"x":468,"y":-1.98},
{"x":606,"y":-1.18},{"x":598,"y":-1.23},{"x":575,"y":-1.31},{"x":602,"y":-1.31},{"x":618,"y":-1.3},{"x":585,"y":-1.43},{"x":581,"y":-1.46},{"x":583,"y":-1.55},{"x":579,"y":-1.58},{"x":602,"y":-1.68},{"x":598,"y":-1.73},{"x":591,"y":-1.86},
{"x":704,"y":-1.41},{"x":741,"y":-1.47},{"x":735,"y":-1.59},{"x":729,"y":-1.76},{"x":729,"y":-1.88},{"x":708,"y":-2.48},{"x":712,"y":-1.3},{"x":725,"y":-1.35},
{"x":856,"y":-1.36},{"x":854,"y":-1.5},{"x":854,"y":-1.7},{"x":870,"y":-1.95},{"x":845,"y":-1.3},{"x":862,"y":-1.25},
{"x":957,"y":-1.5},{"x":967,"y":-1.63},{"x":981,"y":-1.59},{"x":963,"y":-1.96},{"x":986,"y":-2.36},{"x":957,"y":-1.35},{"x":980,"y":-1.35},{"x":970,"y":-1.25}
]},
"layer":[
{"data":{"name":"pts"},
 "mark":{"type":"point","shape":"square","filled":true,"size":38,"opacity":1,"color":"#d42222"},
 "encoding":{
  "x":{"field":"x","type":"quantitative","scale":{"domain":[0,1000],"nice":false,"zero":false},"axis":{"title":null,"values":[0,100,200,300,400,500,600,700,800,900,1000],"labelExpr":"''+datum.value"}},
  "y":{"field":"y","type":"quantitative","scale":{"domain":[-2.5,2.5],"nice":false,"zero":false},"axis":{"title":null,"values":[-2.5,-2,-1.5,-1,-0.5,0,0.5,1,1.5,2,2.5],"labelExpr":"''+datum.value"}}}},
{"data":{"name":"lines"},
 "mark":{"type":"line","color":"#2ed12e","strokeWidth":1.2},
 "encoding":{
  "x":{"field":"x","type":"quantitative","scale":{"domain":[0,1000],"nice":false,"zero":false},"axis":{"title":null,"values":[0,100,200,300,400,500,600,700,800,900,1000],"labelExpr":"''+datum.value"}},
  "y":{"field":"g","type":"quantitative","scale":{"domain":[-2.5,2.5],"nice":false,"zero":false},"axis":{"title":null,"values":[-2.5,-2,-1.5,-1,-0.5,0,0.5,1,1.5,2,2.5],"labelExpr":"''+datum.value"}}}},
{"data":{"name":"lines"},
 "mark":{"type":"line","color":"#1c2a9c","strokeWidth":1.3},
 "encoding":{
  "x":{"field":"x","type":"quantitative","scale":{"domain":[0,1000],"nice":false,"zero":false},"axis":{"title":null,"values":[0,100,200,300,400,500,600,700,800,900,1000],"labelExpr":"''+datum.value"}},
  "y":{"field":"b","type":"quantitative","scale":{"domain":[-2.5,2.5],"nice":false,"zero":false},"axis":{"title":null,"values":[-2.5,-2,-1.5,-1,-0.5,0,0.5,1,1.5,2,2.5],"labelExpr":"''+datum.value"}}}}
]
}
